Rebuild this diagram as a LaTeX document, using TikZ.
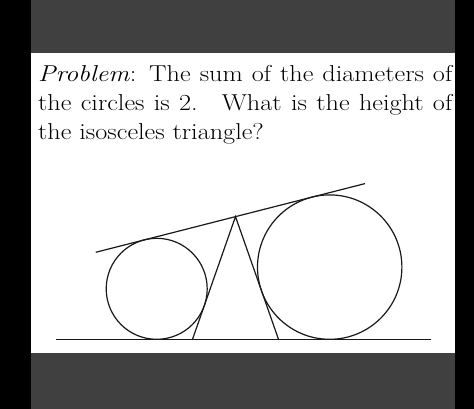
\documentclass[tikz,border=0pt]{standalone}
\usepackage{fontspec}
\begin{document}
\begin{tikzpicture}[x=1pt,y=-1pt,
  geo/.style={line width=1.2pt, draw=black!90},
  txt/.style={anchor=base west, inner sep=0pt, font=\fontsize{23}{29}\selectfont}]
\useasboundingbox (0,0) rectangle (474,409);
\fill[black] (0,0) rectangle (474,409);
\fill[white] (31,53.3) rectangle (455,353.3);
\fill[black!75] (31,0) rectangle (455,53.3);
\fill[black!75] (31,353.3) rectangle (455,409);
% text
\node[txt] (l1) at (38,82) {\scalebox{1.14}[1]{\makebox[363.2pt][s]{\textit{Problem}: The sum of the diameters of}}};
\node[txt] (l2) at (38,111) {\scalebox{1.14}[1]{\makebox[363.2pt][s]{the circles is 2. \ What is the height of}}};
\node[txt] (l3) at (38,140) {\scalebox{1.14}[1]{the isosceles triangle?}};
% geometry
\coordinate (c1) at (156.7,288.8);
\coordinate (c2) at (329.7,267.1);
\coordinate (P) at (235.5,216.6);
\coordinate (L) at (192.5,339.3);
\coordinate (R) at (278.5,339.3);
\coordinate (g1) at (56,339.3);
\coordinate (g2) at (431,339.3);
\coordinate (t1) at (95.7,252.3);
\coordinate (t2) at (365,183.6);
\draw[geo] (g1) -- (g2);
\draw[geo] (t1) -- (t2);
\draw[geo] (c1) circle[radius=50.5];
\draw[geo] (c2) circle[radius=72.2];
\draw[geo] (L) -- (P) -- (R);
\end{tikzpicture}
\end{document}
